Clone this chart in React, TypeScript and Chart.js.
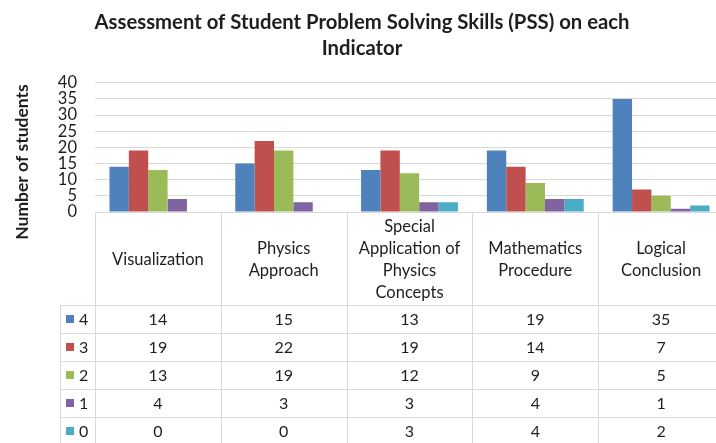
import React, { useEffect, useRef } from "react";
import { Chart, registerables } from "chart.js";

Chart.register(...registerables);

// ---- data ----
const categories = [
  "Visualization",
  "Physics Approach",
  "Special Application of Physics Concepts",
  "Mathematics Procedure",
  "Logical Conclusion",
];
const categoryLines = [
  ["Visualization"],
  ["Physics", "Approach"],
  ["Special", "Application of", "Physics", "Concepts"],
  ["Mathematics", "Procedure"],
  ["Logical", "Conclusion"],
];
const seriesLabels = ["4", "3", "2", "1", "0"];
const score4 = [14, 15, 13, 19, 35];
const score3 = [19, 22, 19, 14, 7];
const score2 = [13, 19, 12, 9, 5];
const score1 = [4, 3, 3, 4, 1];
const score0 = [0, 0, 3, 4, 2];
const seriesValues = [score4, score3, score2, score1, score0];
const seriesColors = ["#4F81BD", "#C0504D", "#9BBB59", "#8064A2", "#4BACC6"];
const yTicks = [0, 5, 10, 15, 20, 25, 30, 35, 40];

const titleLines = ["Assessment of Student Problem Solving Skills (PSS) on each", "Indicator"];
const yAxisTitle = "Number of students";

const FONT = "Lato, 'Open Sans', sans-serif";
const TEXT = "#1e1e1e";
const LINE = "#D9D9D9";

const tablePlugin = {
  id: "dataTable",
  afterDraw(chart: any) {
    const ctx = chart.ctx as CanvasRenderingContext2D;
    const x = chart.scales.x;
    const area = chart.chartArea;
    const n = categories.length;
    const catW = (area.right - area.left) / n;
    const headerBottom = 305;
    const rowH = 28;
    const legendLeft = 60;
    ctx.save();
    ctx.strokeStyle = LINE;
    ctx.lineWidth = 1;
    // vertical lines
    for (let i = 0; i <= n; i++) {
      const vx = Math.round(area.left + i * catW) + 0.5;
      ctx.beginPath();
      ctx.moveTo(vx, area.bottom);
      ctx.lineTo(vx, chart.height);
      ctx.stroke();
    }
    ctx.beginPath();
    ctx.moveTo(legendLeft + 0.5, headerBottom);
    ctx.lineTo(legendLeft + 0.5, chart.height);
    ctx.stroke();
    // horizontal lines
    ctx.beginPath();
    ctx.moveTo(area.left, Math.round(area.bottom) + 0.5);
    ctx.lineTo(area.right, Math.round(area.bottom) + 0.5);
    ctx.stroke();
    for (let r = 0; r <= seriesValues.length; r++) {
      const hy = Math.round(headerBottom + r * rowH) + 0.5;
      ctx.beginPath();
      ctx.moveTo(legendLeft, hy);
      ctx.lineTo(area.right, hy);
      ctx.stroke();
    }
    // header labels
    ctx.fillStyle = TEXT;
    ctx.font = `16.5px ${FONT}`;
    ctx.textAlign = "center";
    ctx.textBaseline = "middle";
    const headerMid = (area.bottom + headerBottom) / 2 + 1;
    const lh = 22;
    categoryLines.forEach((lines, i) => {
      const cx = x.getPixelForValue(i);
      const start = headerMid - ((lines.length - 1) * lh) / 2;
      lines.forEach((t, k) => ctx.fillText(t, cx, start + k * lh));
    });
    // rows
    ctx.font = `16px ${FONT}`;
    seriesValues.forEach((vals, r) => {
      const cy = headerBottom + r * rowH + rowH / 2 + 1;
      ctx.fillStyle = seriesColors[r];
      ctx.fillRect(66, Math.round(cy - 5), 8, 8);
      ctx.fillStyle = TEXT;
      ctx.textAlign = "left";
      ctx.fillText(seriesLabels[r], 79, cy);
      ctx.textAlign = "center";
      vals.forEach((v, i) => ctx.fillText(String(v), x.getPixelForValue(i), cy));
    });
    // y axis title
    ctx.save();
    ctx.translate(22, 162);
    ctx.rotate(-Math.PI / 2);
    ctx.font = `bold 17.5px ${FONT}`;
    ctx.fillStyle = TEXT;
    ctx.textAlign = "center";
    ctx.textBaseline = "middle";
    ctx.fillText(yAxisTitle, 0, 0);
    ctx.restore();
    ctx.restore();
  },
};

export default function App() {
  const ref = useRef<HTMLCanvasElement | null>(null);
  useEffect(() => {
    if (!ref.current) return;
    const chart = new Chart(ref.current, {
      type: "bar",
      data: {
        labels: categories,
        datasets: seriesValues.map((vals, i) => ({
          label: seriesLabels[i],
          data: vals,
          backgroundColor: seriesColors[i],
          borderWidth: 0,
          barPercentage: 1,
          categoryPercentage: 0.77,
        })),
      },
      options: {
        responsive: false,
        animation: false,
        devicePixelRatio: 1,
        layout: { padding: { left: 0, right: 6, top: 0, bottom: 231 } },
        plugins: {
          legend: { display: false },
          tooltip: { enabled: false },
          title: {
            display: true,
            text: titleLines,
            color: TEXT,
            font: { family: FONT, size: 20.3, weight: "bold", lineHeight: 1.25 },
            padding: { top: 10, bottom: 22 },
          },
        },
        scales: {
          x: { display: false },
          y: {
            min: 0,
            max: 40,
            afterBuildTicks: (s: any) => {
              s.ticks = yTicks.map((v) => ({ value: v }));
            },
            afterFit: (s: any) => {
              s.width = 95;
            },
            border: { display: false },
            grid: { color: LINE, drawTicks: false },
            ticks: {
              autoSkip: false,
              padding: 18,
              color: TEXT,
              font: { family: FONT, size: 16.5 },
            },
          },
        },
      },
      plugins: [tablePlugin],
    } as any);
    return () => chart.destroy();
  }, []);
  return (
    <div
      style={{
        position: "fixed",
        left: 0,
        top: 0,
        width: 716,
        height: 443,
        overflow: "hidden",
        background: "#fff",
      }}
    >
      <canvas ref={ref} width={730} height={443} style={{ display: "block" }} />
    </div>
  );
}
